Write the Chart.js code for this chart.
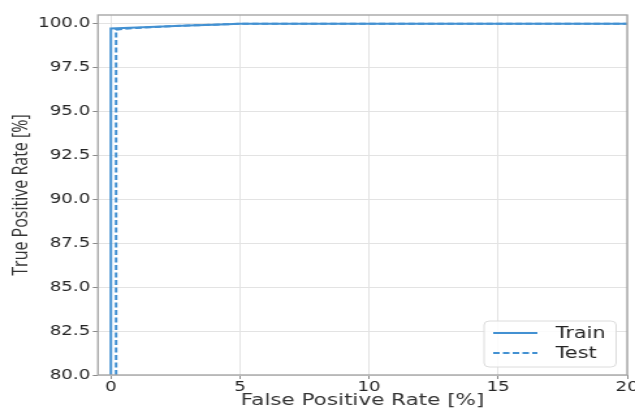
<!DOCTYPE html>
<html>
<head>
<meta charset="utf-8">
<script src="https://cdn.jsdelivr.net/npm/chart.js@4"></script>
<style>
  html, body { margin: 0; padding: 0; background: #fff; overflow: hidden; height: 408px; }
  /* the reference is stretched sideways, so draw narrower and stretch */
  #wrap { width: 488px; height: 411px; transform: scaleX(1.3012); transform-origin: 0 0; }
</style>
</head>
<body>
<div id="wrap"><canvas id="roc"></canvas></div>
<script>
// ROC curve values (percent)
const trainFpr = [0, 0, 1, 2, 3, 4, 5, 20];
const trainTpr = [80, 99.73, 99.79, 99.85, 99.9, 99.95, 100, 100];
const testFpr = [0.2, 0.2, 0.5, 1, 2, 3, 4, 5, 20];
const testTpr = [80, 99.66, 99.71, 99.76, 99.84, 99.9, 99.95, 100, 100];
const xTicks = [0, 5, 10, 15, 20];
const yTicks = [80, 82.5, 85, 87.5, 90, 92.5, 95, 97.5, 100];
const seriesNames = ['Train', 'Test'];

const lineColor = '#4391d2';
Chart.defaults.font.family = 'DejaVu Sans';
Chart.defaults.color = '#262626';

function toPoints(xs, ys) {
    return xs.map((x, i) => ({ x: x, y: ys[i] }));
}

// frame + boxed legend like matplotlib
const framePlugin = {
    id: 'frame',
    afterDatasetsDraw(chart) {
        const ctx = chart.ctx;
        const a = chart.chartArea;
        ctx.save();
        ctx.strokeStyle = '#a6a6a6';
        ctx.lineWidth = 1.4;
        ctx.strokeRect(a.left, a.top, a.right - a.left, a.bottom - a.top);

        // legend box
        const w = 101.5, h = 46;
        const bx = a.right - 8.5 - w, by = a.bottom - 8 - h;
        ctx.fillStyle = 'rgba(255,255,255,0.85)';
        ctx.strokeStyle = '#dcdcdc';
        ctx.lineWidth = 1;
        ctx.beginPath();
        ctx.roundRect(bx, by, w, h, 4);
        ctx.fill();
        ctx.stroke();

        ctx.font = '16px "DejaVu Sans"';
        ctx.textBaseline = 'middle';
        ctx.fillStyle = '#262626';
        seriesNames.forEach((name, i) => {
            const cy = by + 12 + i * 20;
            ctx.strokeStyle = lineColor;
            ctx.lineWidth = 1.8;
            ctx.setLineDash(i === 1 ? [5, 2.5] : []);
            ctx.beginPath();
            ctx.moveTo(bx + 7, cy);
            ctx.lineTo(bx + 41, cy);
            ctx.stroke();
            ctx.setLineDash([]);
            ctx.fillText(name, bx + 55, cy + 1);
        });
        ctx.restore();
    }
};

new Chart(document.getElementById('roc'), {
    type: 'scatter',
    data: {
        datasets: [
            {
                label: seriesNames[0],
                data: toPoints(trainFpr, trainTpr),
                showLine: true,
                borderColor: lineColor,
                borderWidth: 2,
                pointRadius: 0,
                tension: 0
            },
            {
                label: seriesNames[1],
                data: toPoints(testFpr, testTpr),
                showLine: true,
                borderColor: lineColor,
                borderWidth: 2,
                borderDash: [5, 2.5],
                pointRadius: 0,
                tension: 0
            }
        ]
    },
    options: {
        responsive: true,
        maintainAspectRatio: false,
        animation: false,
        layout: { padding: { left: 0, right: 6, top: 15, bottom: 0 } },
        plugins: {
            legend: { display: false },
            tooltip: { enabled: false }
        },
        scales: {
            x: {
                type: 'linear',
                min: -0.5,
                max: 20,
                afterBuildTicks: (s) => { s.ticks = xTicks.map(v => ({ value: v })); },
                afterFit: (s) => { s.height = 36; s.paddingLeft = 0; s.paddingRight = 0; },
                ticks: { font: { size: 14 }, padding: 0, maxRotation: 0, color: '#262626' },
                grid: { color: '#e3e3e3', tickColor: '#8a8a8a', tickLength: 4 },
                border: { display: false },
                title: {
                    display: true,
                    text: 'False Positive Rate [%]',
                    font: { size: 16.5 },
                    color: '#333',
                    padding: { top: 0, bottom: 0 }
                }
            },
            y: {
                min: 80,
                max: 100.5,
                afterBuildTicks: (s) => { s.ticks = yTicks.map(v => ({ value: v })); },
                afterFit: (s) => { s.width = 75.3; s.paddingTop = 0; s.paddingBottom = 0; },
                ticks: {
                    font: { size: 14 },
                    padding: 2,
                    color: '#262626',
                    callback: (v) => Number(v).toFixed(1)
                },
                grid: { color: '#e3e3e3', tickColor: '#8a8a8a', tickLength: 4 },
                border: { display: false },
                title: {
                    display: true,
                    text: 'True Positive Rate [%]',
                    font: { family: 'Open Sans', size: 16 },
                    color: '#333',
                    padding: { top: 7, bottom: 0 }
                }
            }
        }
    },
    plugins: [framePlugin]
});
</script>
</body>
</html>
